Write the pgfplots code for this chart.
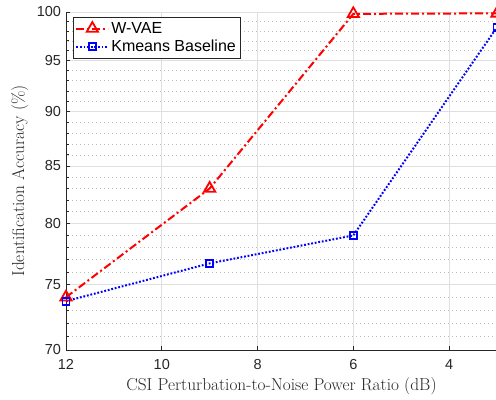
\documentclass[border=0pt]{standalone}
\usepackage{fontspec}
\usepackage{pgfplots}
\pgfplotsset{compat=1.18}
\newfontfamily\helv{Liberation Sans}
\definecolor{axgray}{RGB}{38,38,38}
\definecolor{gridmaj}{RGB}{223,223,223}
\definecolor{gridmin}{RGB}{190,190,190}
\begin{document}
\begin{tikzpicture}
\begin{axis}[
  scale only axis, width=431pt, height=338pt,
  x dir=reverse, xmin=3, xmax=12,
  ymode=log, ymin=70, ymax=100,
  axis x line*=bottom, axis y line*=left,
  axis line style={axgray, line width=0.8pt, -},
  tick align=inside,
  xtick={4,6,8,10,12}, xticklabels={4,6,8,10,12},
  ytick={70,75,80,85,90,95,100}, yticklabels={70,75,80,85,90,95,100},
  minor ytick={71,72,73,74,76,77,78,79,81,82,83,84,86,87,88,89,91,92,93,94,96,97,98,99},
  major tick length=4.3pt, minor tick length=3pt,
  tick style={axgray, line width=0.8pt},
  grid=both,
  major grid style={gridmaj, line width=0.8pt, solid},
  minor grid style={gridmin, line width=0.6pt, dash pattern=on 0.8pt off 3.2pt},
  tick label style={font=\helv\fontsize{14.5}{16}\selectfont, text=axgray},
  xticklabel style={yshift=-6pt},
  yticklabel style={xshift=-1.5pt},
  xlabel={CSI Perturbation-to-Noise Power Ratio (dB)},
  ylabel={Identification Accuracy (\%)},
  label style={font=\fontsize{17.3}{20}\selectfont, text=axgray},
  xlabel style={at={(axis description cs:0.5,-0.1213)}, anchor=base},
  ylabel style={at={(axis description cs:-0.0974,0.5)}, anchor=base},
  clip=false,
  legend style={at={(axis description cs:0.01624,0.9852)}, anchor=north west,
    draw=axgray, line width=0.7pt, fill=white,
    font=\helv\fontsize{16}{19}\selectfont,
    inner xsep=2pt, inner ysep=3pt, row sep=1.5pt,
    cells={anchor=west}},
  legend image code/.code={\draw[mark repeat=2,mark phase=2] plot coordinates {(0pt,0pt)(16pt,0pt)(32pt,0pt)};},
]
\coordinate (ll) at (axis description cs:0,0);
\coordinate (ur) at (axis description cs:1,1);
\addplot[red, line width=2pt, dash pattern=on 8pt off 3pt on 2pt off 3pt,
  mark=triangle, mark size=6.5pt, mark options={solid, line width=1.8pt}]
  coordinates {(12,74.0) (9,83.0) (6,99.8) (3,99.85)};
\addlegendentry{W-VAE}
\addplot[blue, line width=2pt, dash pattern=on 1.8pt off 1.8pt,
  mark=square, mark size=3.5pt, mark options={solid, line width=1.8pt}]
  coordinates {(12,73.7) (9,76.7) (6,79.0) (3,98.4)};
\addlegendentry{Kmeans Baseline}
\end{axis}
\pgfresetboundingbox
\useasboundingbox ([xshift=-66pt,yshift=-49pt]ll) rectangle ([xshift=-1pt,yshift=12pt]ur);
\end{tikzpicture}
\end{document}
